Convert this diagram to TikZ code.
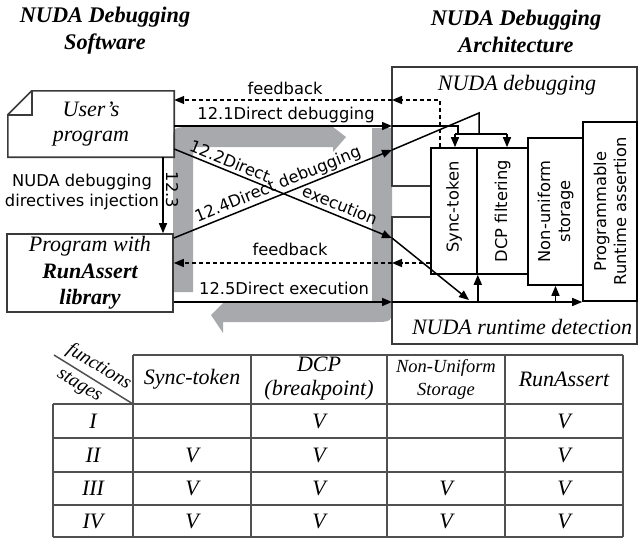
\documentclass[tikz,border=0pt]{standalone}
\usepackage{fontspec}
\setmainfont{Liberation Serif}
\newfontfamily\dvs{DejaVu Sans}
\usetikzlibrary{arrows.meta,calc}
\definecolor{bandgray}{HTML}{A7A9AC}
\definecolor{edgegray}{HTML}{3A3A3A}
\definecolor{tabgray}{HTML}{505050}
\begin{document}
\begin{tikzpicture}[x=1pt,y=-1pt,
  plainline/.style={line width=1.5pt, black},
  arr/.style={plainline, -{Triangle[length=10pt,width=8pt]}},
  fbline/.style={plainline, dash pattern=on 4pt off 3pt},
  fbarr/.style={arr, dash pattern=on 4pt off 3pt},
  sanslab/.style={font=\dvs\fontsize{16.3}{20}\selectfont, inner sep=0pt},
  seriflab/.style={font=\fontsize{22}{26}\selectfont\itshape, inner sep=0pt},
  titlelab/.style={font=\fontsize{22.3}{27}\selectfont\bfseries\itshape, inner sep=0pt, align=center},
  regionbox/.style={draw=edgegray, line width=1.6pt, inner sep=0pt},
  compbox/.style={draw=black, line width=1.6pt, fill=white, inner sep=0pt},
  tabline/.style={draw=tabgray, line width=1.7pt},
  tabtext/.style={font=\fontsize{22}{24}\selectfont\itshape, inner sep=0pt, align=center},
]
\useasboundingbox (0,0) rectangle (638,538);

% titles
\node[titlelab] (tsoft) at (105,31) {NUDA Debugging\\Software};
\node[titlelab] (tarch) at (516,31) {NUDA Debugging\\Architecture};

% gray flow bands
\fill[bandgray] (173,292) -- (173,145) .. controls (173,127) .. (191,127) -- (333,127)
  -- (346,137) -- (333,152) -- (333,147) -- (197,147) .. controls (193,147) .. (193,151)
  -- (193,292) -- cycle;
\fill[bandgray] (372,128) -- (392,128) -- (392,304) .. controls (392,322) .. (374,322)
  -- (223,322) -- (223,333) -- (211,315) -- (223,303) -- (368,303)
  .. controls (372,303) .. (372,299) -- cycle;

% architecture regions
\node[regionbox, minimum width=245pt, minimum height=119pt] (dbgreg) at (514.5,126.5) {};
\node[regionbox, minimum width=245pt, minimum height=127pt] (rtreg) at (514.5,280.5) {};
\node[seriflab] (dbglab) at (517,85) {NUDA debugging};
\node[seriflab] (rtlab) at (522,327) {NUDA runtime detection};

% components
\node[compbox, minimum width=46pt, minimum height=126pt] (sync) at (454,211) {};
\node[compbox, minimum width=51pt, minimum height=126pt] (dcp) at (502.5,211) {};
\node[compbox, minimum width=55pt, minimum height=147pt] (nonu) at (555.5,211.5) {};
\node[compbox, minimum width=54pt, minimum height=179pt] (prga) at (610,211.5) {};
\node[sanslab, rotate=90] (synclab) at ([yshift=4pt]sync.center) {Sync-token};
\node[sanslab, rotate=90] (dcplab) at (dcp.center) {DCP filtering};
\node[sanslab, rotate=90, align=center] (nonulab) at (nonu.center) {Non-uniform\\storage};
\node[sanslab, rotate=90, align=center] (prgalab) at (prga.center) {Programmable\\Runtime assertion};

% software boxes
\node[inner sep=0pt, minimum width=166pt, minimum height=66pt] (user) at (91,124) {};
\draw[draw=edgegray, line width=1.6pt] ($(user.north west)+(0,24)$) -- ($(user.north west)+(24,0)$)
  -- (user.north east) -- (user.south east) -- (user.south west) -- cycle;
\draw[draw=edgegray, line width=1.4pt] ($(user.north west)+(0,24)$) -- ($(user.north west)+(24,24)$)
  -- ($(user.north west)+(24,0)$);
\node[seriflab, align=center, font=\fontsize{22}{25}\selectfont\itshape] (userlab) at (91,124) {User’s\\program};
\node[regionbox, minimum width=166pt, minimum height=78pt, align=center,
  font=\fontsize{22}{26.5}\selectfont\itshape] (rprog) at (90,273)
  {Program with\\\bfseries RunAssert\\\bfseries library};

% coordinates on the architecture edge
\coordinate (fbT) at (392,100);
\coordinate (e121) at (392,126);
\coordinate (e124) at (392,150);
\coordinate (e122) at (392,238);
\coordinate (fbB) at (392,263);
\coordinate (e125) at (392,302);
\coordinate (b121) at (458,126);
\coordinate (d121) at (458,134);
\coordinate (distL) at (455,134);
\coordinate (distR) at (507,134);
\coordinate (b124) at (479,113);
\coordinate (d124) at (479,134);
\coordinate (t122) at (469,300);
\coordinate (c123) at (163,0);
\coordinate (fbx) at (440,100);

% 12.1
\draw[arr] ([yshift=-2pt]user.east) -- (e121);
\draw[plainline] (e121) -- (b121) -- (d121);
\draw[plainline] (distL) -- (distR);
\draw[arr] (distL) -- (distL |- sync.north);
\draw[arr] (distR) -- (distR |- dcp.north);
% 12.2
\draw[arr] ([yshift=-25pt]user.east) -- (e122);
\draw[arr] (e122) -- (t122);
% 12.3
\draw[arr] (user.south -| c123) -- (rprog.north -| c123);
% 12.4
\draw[arr] ([yshift=35pt]rprog.east) -- (e124);
\draw[plainline] (e124) -- (b124) -- (d124);
% feedback top
\draw[fbarr] (sync.north -| fbx) -- (fbx) -- (fbT);
\draw[fbarr] (fbT) -- ([yshift=24pt]user.east);
% feedback bottom
\draw[fbarr] (sync.west |- fbB) -- (fbB);
\draw[fbarr] (fbB) -- (rprog.east |- fbB);
% 12.5
\draw[arr] (rprog.east |- e125) -- (e125);
\draw[arr] (e125) -- (prga.west |- e125);
\draw[arr] (sync.south east |- e125) -- (sync.south east);
\draw[arr] (nonu.south |- e125) -- (nonu.south);

% connector labels
\node[sanslab] (lfbT) at (285,88) {feedback};
\node[sanslab] (l121) at (286,115) {12.1Direct debugging};
\node[sanslab, rotate=-22.2] (l122a) at (230,161) {12.2Direct};
\node[sanslab, rotate=-22.2] (l122b) at (340,205) {execution};
\node[sanslab, rotate=22] (l124) at (278,185) {12.4Direct debugging};
\node[sanslab, rotate=-90] (l123) at (172,190) {12.3};
\node[sanslab, align=center] (linj) at (82,192.5) {NUDA debugging\\directives injection};
\node[sanslab] (lfbB) at (290,249) {feedback};
\node[sanslab] (l125) at (284,288) {12.5Direct execution};

% table
\draw[tabline] (133,355) -- (623,355);
\foreach \yy in {404,438,472,505,537} { \draw[tabline] (53,\yy) -- (623,\yy); }
\foreach \xx in {133,251,387,505,623} { \draw[tabline] (\xx,355) -- (\xx,537); }
\draw[tabline] (53,404) -- (53,537);
\draw[tabline, line width=1.5pt] (54,355) -- (133,404);
\node[tabtext, rotate=-31, font=\fontsize{19.5}{22}\selectfont\itshape] (hfun) at (99,367) {functions};
\node[tabtext, rotate=-31, font=\fontsize{19.5}{22}\selectfont\itshape] (hsta) at (79,386) {stages};
\node[tabtext] (hsync) at (192,379) {Sync-token};
\node[tabtext] (hdcp) at (319,379) {DCP\\(breakpoint)};
\node[tabtext, font=\fontsize{18.5}{23}\selectfont\itshape] (hnon) at (446,379) {Non-Uniform\\Storage};
\node[tabtext] (hra) at (564,379) {RunAssert};
\node[tabtext] (r1) at (93,421) {I};
\node[tabtext] (r2) at (93,455) {II};
\node[tabtext] (r3) at (93,488.5) {III};
\node[tabtext] (r4) at (93,521) {IV};
\node[tabtext] (v12) at (319,421) {V};
\node[tabtext] (v14) at (564,421) {V};
\node[tabtext] (v21) at (192,455) {V};
\node[tabtext] (v22) at (319,455) {V};
\node[tabtext] (v24) at (564,455) {V};
\node[tabtext] (v31) at (192,488.5) {V};
\node[tabtext] (v32) at (319,488.5) {V};
\node[tabtext] (v33) at (446,488.5) {V};
\node[tabtext] (v34) at (564,488.5) {V};
\node[tabtext] (v41) at (192,521) {V};
\node[tabtext] (v42) at (319,521) {V};
\node[tabtext] (v43) at (446,521) {V};
\node[tabtext] (v44) at (564,521) {V};
\end{tikzpicture}
\end{document}
